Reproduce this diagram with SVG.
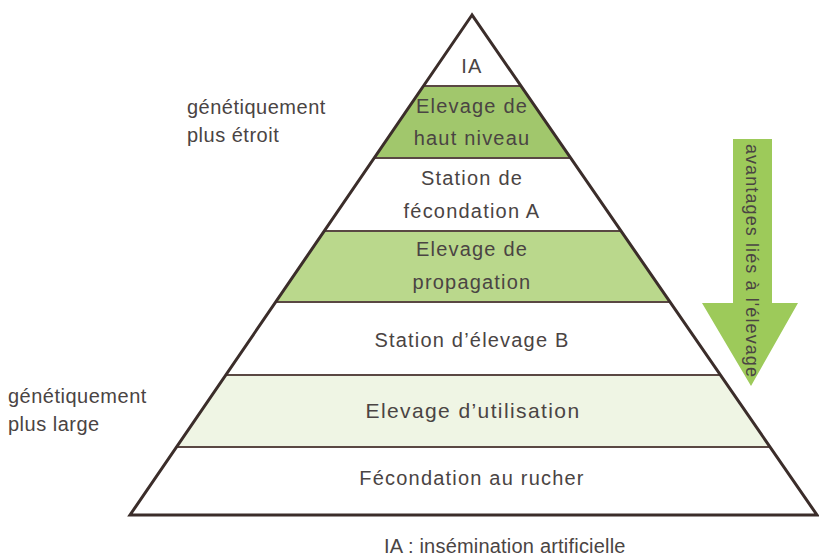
<svg xmlns="http://www.w3.org/2000/svg" width="819" height="558" viewBox="0 0 819 558">
  <style>
    .lbl { font-family: "Liberation Sans", Arial, sans-serif; font-size: 20px; fill: #4a4443; letter-spacing: 1.2px; }
    .mid { text-anchor: middle; }
    .side { letter-spacing: 0.5px; }
    .sep { stroke: #5a4843; stroke-width: 2; fill: none; }
    .edge { stroke: #3b2d2a; stroke-width: 3; fill: none; stroke-linejoin: miter; }
  </style>
  <defs>
    <clipPath id="pyr">
      <polygon points="472,15 130,515 817,515"/>
    </clipPath>
  </defs>

  <rect width="819" height="558" fill="#ffffff"/>

  <!-- pyramid levels, top to bottom -->
  <g id="level-ia">
    <text class="lbl mid" x="472" y="73">IA</text>
  </g>
  <g id="level-haut-niveau">
    <rect x="100" y="86" width="720" height="72" fill="#a1c76c" clip-path="url(#pyr)"/>
    <text class="lbl mid" x="472" y="113">Elevage de</text>
    <text class="lbl mid" x="472" y="145">haut niveau</text>
  </g>
  <g id="level-station-a">
    <text class="lbl mid" x="472" y="185">Station de</text>
    <text class="lbl mid" x="472" y="218">fécondation A</text>
  </g>
  <g id="level-propagation">
    <rect x="100" y="231" width="720" height="71" fill="#bad88c" clip-path="url(#pyr)"/>
    <text class="lbl mid" x="472" y="256">Elevage de</text>
    <text class="lbl mid" x="472" y="289">propagation</text>
  </g>
  <g id="level-station-b">
    <text class="lbl mid" x="472" y="347">Station d’élevage B</text>
  </g>
  <g id="level-utilisation">
    <rect x="100" y="375" width="720" height="72" fill="#eff5e4" clip-path="url(#pyr)"/>
    <text class="lbl mid" style="font-size:21px; letter-spacing:1.4px;" x="473" y="418">Elevage d’utilisation</text>
  </g>
  <g id="level-rucher">
    <text class="lbl mid" x="472" y="485">Fécondation au rucher</text>
  </g>

  <!-- level separators and outline -->
  <g id="connectors">
    <line class="sep" x1="423.4" y1="86" x2="521" y2="86"/>
    <line class="sep" x1="374.2" y1="158" x2="570.7" y2="158"/>
    <line class="sep" x1="324.3" y1="231" x2="621" y2="231"/>
    <line class="sep" x1="275.7" y1="302" x2="670" y2="302"/>
    <line class="sep" x1="225.8" y1="375" x2="720.4" y2="375"/>
    <line class="sep" x1="176.5" y1="447" x2="770.1" y2="447"/>
    <polygon class="edge" points="472,15 130,515 817,515"/>
  </g>

  <!-- breeding-advantage arrow -->
  <g id="arrow-avantages">
    <polygon points="733,139 772,139 772,303 798,303 751,386 702,303 733,303" fill="#9dca5a"/>
    <text class="lbl mid" style="font-size:18px; letter-spacing:1.1px;" transform="translate(746,261) rotate(90)">avantages liés à l'élevage</text>
  </g>

  <!-- side annotations -->
  <g id="note-etroit">
    <text class="lbl side" x="187" y="114">génétiquement</text>
    <text class="lbl side" x="187" y="142">plus étroit</text>
  </g>
  <g id="note-large">
    <text class="lbl side" x="8" y="403">génétiquement</text>
    <text class="lbl side" x="8" y="431">plus large</text>
  </g>

  <g id="legend">
    <text class="lbl" style="letter-spacing:0.2px;" x="384" y="553">IA : insémination artificielle</text>
  </g>
</svg>
